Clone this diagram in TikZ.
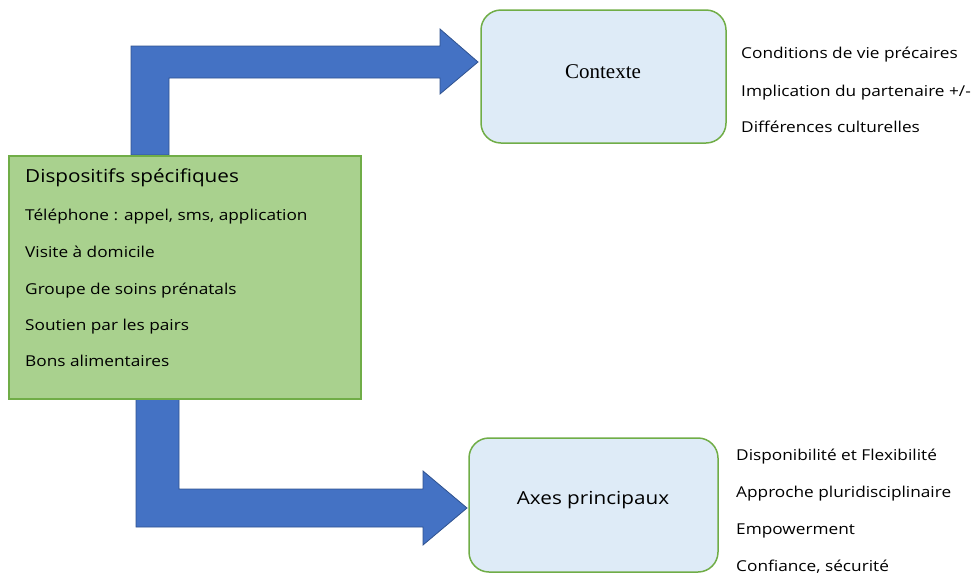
\documentclass[tikz,border=0pt]{standalone}
\usepackage{fontspec}
\setmainfont{Open Sans}[FakeStretch=1.15]
\newfontfamily\timesfont{Liberation Serif}
\usetikzlibrary{positioning, calc}
\definecolor{boxgreen}{RGB}{169,209,142}
\definecolor{edgegreen}{RGB}{112,173,71}
\definecolor{boxblue}{RGB}{222,235,247}
\definecolor{arrowblue}{RGB}{68,114,196}
\definecolor{arrowedge}{RGB}{47,82,143}

\begin{document}
\begin{tikzpicture}[x=1pt, y=-1pt, font=\fontsize{15}{18}\selectfont,
themebox/.style={rectangle, rounded corners=20pt, draw=edgegreen,
line width=1.5pt, fill=boxblue, minimum width=245pt, minimum height=133pt},
blockarrow/.style={fill=arrowblue, draw=arrowedge, line width=0.8pt, line join=miter},
item/.style={anchor=mid west, inner sep=0pt}
]
\useasboundingbox (0,0) rectangle (977,574);

% Block arrows
\coordinate (ctxtip) at (478,62);
\coordinate (axetip) at (467,508);
\draw[blockarrow] (131,155) -- (131,46) -- (440,46) -- (440,29) -- (ctxtip)
-- (440,94) -- (440,78) -- (169,78) -- (169,155) -- cycle;
\draw[blockarrow] (136,398) -- (136,527) -- (423,527) -- (423,545) -- (axetip)
-- (423,471) -- (423,489) -- (179,489) -- (179,398) -- cycle;

% Dispositifs
\node[draw=edgegreen, line width=1.5pt, fill=boxgreen, minimum width=352pt,
minimum height=243pt, anchor=north west] (disp) at (8,155) {};
\node[item, font=\fontsize{18}{21}\selectfont] (disptitle) at (25,180) {Dispositifs spécifiques};
\node[item] (tel) at (25,218) {Téléphone : appel, sms, application};
\node[item] (visite) at (25,255) {Visite à domicile};
\node[item] (groupe) at (25,292) {Groupe de soins prénatals};
\node[item] (pairs) at (25,328) {Soutien par les pairs};
\node[item] (bons) at (25,364) {Bons alimentaires};

% Contexte
\node[themebox] (ctx) at (603.5,76.5) {};
\node[font=\timesfont\fontsize{21}{24}\selectfont, inner sep=0pt] (ctxlabel)
at (603,72) {Contexte};
\node[item] (cond) at (741,56) {Conditions de vie précaires};
\node[item] (impl) at (741,94) {Implication du partenaire +/-};
\node[item] (diff) at (741,130) {Différences culturelles};

% Axes principaux
\node[themebox, minimum width=249pt, minimum height=134pt] (axes) at (593.5,505) {};
\node[font=\fontsize{18}{22}\selectfont, inner sep=0pt] (axeslabel) at (593,500)
{Axes principaux};
\node[item] (dispo) at (736,458) {Disponibilité et Flexibilité};
\node[item] (appr) at (736,495) {Approche pluridisciplinaire};
\node[item] (empow) at (736,532) {Empowerment};
\node[item] (conf) at (736,569) {Confiance, sécurité};

\end{tikzpicture}
\end{document}
